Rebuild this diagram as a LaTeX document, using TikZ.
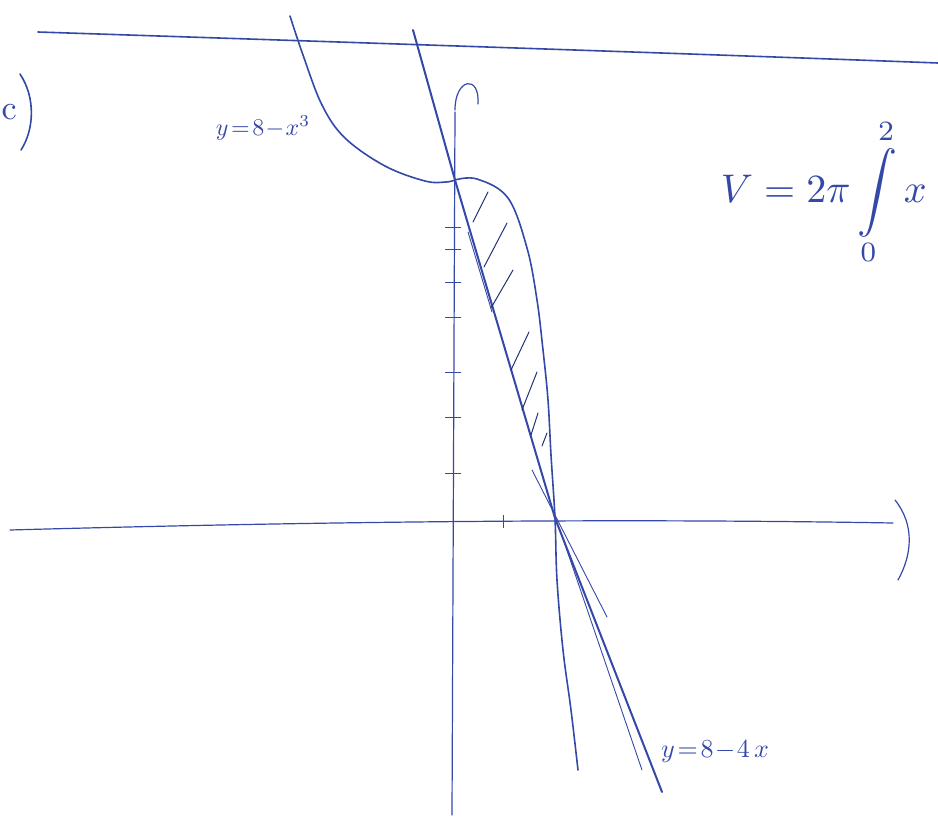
\documentclass[tikz,border=0pt]{standalone}
\usepackage{amsmath}
\usepackage{amssymb}
\usepackage[dvipsnames]{xcolor}
\definecolor{ink}{RGB}{52,72,168}
\tikzset{
    pen/.style={ink, line width=1.6pt, line cap=round, line join=round},
    thinpen/.style={ink, line width=0.9pt, line cap=round},
    hatch/.style={ink!70!black, line width=1pt, line cap=round},
    tick/.style={ink, line width=1pt},
    scribble/.style={ink, inner sep=0pt},
}

\begin{document}
\begin{tikzpicture}[x=1pt, y=-1pt]
            \useasboundingbox (0,0) rectangle (938,830);
            \clip (0,0) rectangle (938,830);

            % frame line and part label
            \draw[pen] (38,32) .. controls (400,44) and (700,54) .. (938,63);
            \node[scribble, scale=3.4, anchor=west] (c) at (1,112) {c};
            \draw[pen] (20,74) .. controls (36,98) and (34,130) .. (21,150);

            % axes
            \coordinate (o) at (455,522);
            \draw[pen, line width=1.2pt] (10,530) .. controls (300,522) and (600,518) .. (893,523);
            \draw[pen, line width=1.2pt] (895,500) .. controls (915,525) and (912,555) .. (898,580);
            \draw[pen, line width=1.2pt] (455,112) -- (452,815);
            \draw[pen, line width=1.2pt] (455,110) .. controls (455,78) and (480,74) .. (478,104);

            % ticks
            \foreach \ty in {227,249,282,317,372,417,473}
                \draw[tick] (445,\ty) -- (461,\ty);
            \draw[tick] (503,515) -- (503,528);

            % curve y = 8 - x^3
            \coordinate (top) at (455,180);
            \coordinate (root) at (555,518);
            \draw[pen] plot[smooth, tension=0.6] coordinates {
                (290,16) (303,55) (322,105) (345,138) (385,166) (425,181) (446,182) (top)};
            \draw[pen] plot[smooth, tension=0.6] coordinates {
                (top) (477,179) (508,198) (527,248) (537,300) (543,350)
                (548,400) (551,455) (root) (557,580) (563,650) (571,710) (578,770)};

            % line y = 8 - 4x
            \draw[pen, line width=2pt] (413,30) -- (top) -- (root) -- (662,792);
            \draw[thinpen] (532,470) -- (607,617);
            \draw[thinpen] (560,530) -- (642,770);
            \draw[thinpen] (468,232) -- (492,312);

            % shading strokes
            \draw[hatch] (488,192) -- (473,222);
            \draw[hatch] (507,223) -- (484,267);
            \draw[hatch] (513,270) -- (491,308);
            \draw[hatch] (529,332) -- (511,370);
            \draw[hatch] (537,372) -- (522,410);
            \draw[hatch] (538,413) -- (531,435);
            \draw[hatch] (547,433) -- (542,446);

            % labels
            \node[scribble, scale=2.4] (cubic) at (263,128) {$y\!=\!8\!-\!x^3$};
            \node[scribble, scale=2.6] (linelbl) at (715,752) {$y\!=\!8\!-\!4\,x$};
            \node[scribble, scale=4.0, anchor=west] (vol) at (720,192)
                {$V=2\pi\displaystyle\int\limits_{0}^{2} x$};
\end{tikzpicture}
\end{document}
